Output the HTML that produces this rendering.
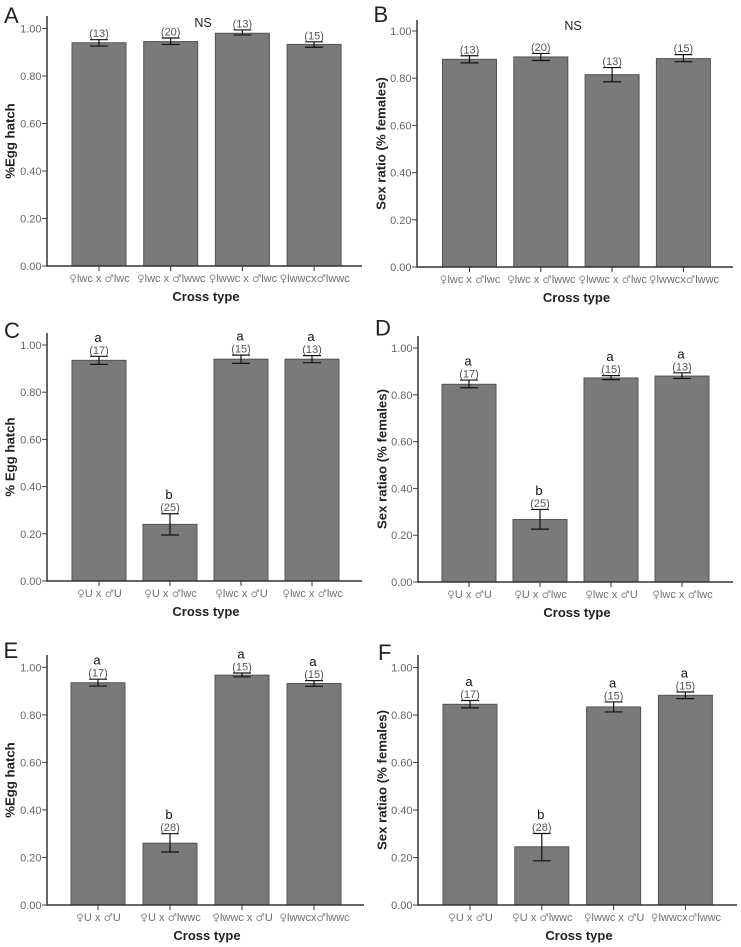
<!DOCTYPE html>
<html lang="en">
<head>
<meta charset="utf-8">
<title>Egg hatch and sex ratio by cross type</title>
<style>
  html, body { margin: 0; padding: 0; background: #fff; }
  svg { display: block; font-family: "Liberation Sans", "DejaVu Sans", sans-serif; filter: blur(0.35px); }
</style>
</head>
<body>
<svg id="figure" xmlns="http://www.w3.org/2000/svg" width="741" height="947" viewBox="0 0 741 947"></svg>
<script>
const tickLabels = ["0.00", "0.20", "0.40", "0.60", "0.80", "1.00"];
const tickValues = [0, 0.2, 0.4, 0.6, 0.8, 1];

const catsA = ["♀lwc x ♂lwc", "♀lwc x ♂lwwc", "♀lwwc x ♂lwc", "♀lwwcx♂lwwc"];
const catsC = ["♀U x ♂U", "♀U x ♂lwc", "♀lwc x ♂U", "♀lwc x ♂lwc"];
const catsE = ["♀U x ♂U", "♀U x ♂lwwc", "♀lwwc x ♂U", "♀lwwcx♂lwwc"];

const valuesA = [0.94, 0.945, 0.98, 0.933];
const lowA = [0.926, 0.933, 0.973, 0.921];
const highA = [0.953, 0.96, 0.994, 0.944];
const countsA = ["(13)", "(20)", "(13)", "(15)"];

const valuesB = [0.88, 0.89, 0.815, 0.883];
const lowB = [0.865, 0.875, 0.785, 0.87];
const highB = [0.895, 0.905, 0.845, 0.9];
const countsB = ["(13)", "(20)", "(13)", "(15)"];

const valuesC = [0.935, 0.24, 0.94, 0.94];
const lowC = [0.918, 0.195, 0.922, 0.925];
const highC = [0.952, 0.285, 0.957, 0.955];
const countsC = ["(17)", "(25)", "(15)", "(13)"];
const lettersC = ["a", "b", "a", "a"];

const valuesD = [0.845, 0.267, 0.872, 0.88];
const lowD = [0.83, 0.226, 0.865, 0.87];
const highD = [0.863, 0.31, 0.882, 0.894];
const countsD = ["(17)", "(25)", "(15)", "(13)"];
const lettersD = ["a", "b", "a", "a"];

const valuesE = [0.935, 0.26, 0.967, 0.932];
const lowE = [0.921, 0.223, 0.96, 0.92];
const highE = [0.95, 0.3, 0.976, 0.944];
const countsE = ["(17)", "(28)", "(15)", "(15)"];
const lettersE = ["a", "b", "a", "a"];

const valuesF = [0.845, 0.245, 0.834, 0.883];
const lowF = [0.83, 0.186, 0.813, 0.869];
const highF = [0.861, 0.301, 0.855, 0.897];
const countsF = ["(17)", "(28)", "(15)", "(15)"];
const lettersF = ["a", "b", "a", "a"];

const panels = [
  { id: "a", letter: "A", lx: 4, ly: 23, title: "%Egg hatch", cats: catsA, values: valuesA, low: lowA, high: highA, counts: countsA, letters: null,
    ax: 47, ar: 362, top: 16, y0: 266, y1: 28.5, first: 99, step: 71.7, bw: 54, titleGap: 32.5, ns: [203, 27] },
  { id: "b", letter: "B", lx: 373.5, ly: 22, title: "Sex ratio (% females)", cats: catsA, values: valuesB, low: lowB, high: highB, counts: countsB, letters: null,
    ax: 417, ar: 733, top: 20, y0: 267, y1: 31, first: 469.5, step: 71.3, bw: 54, titleGap: 31.5, ns: [573, 30] },
  { id: "c", letter: "C", lx: 4, ly: 338, title: "% Egg hatch", cats: catsC, values: valuesC, low: lowC, high: highC, counts: countsC, letters: lettersC,
    ax: 47, ar: 362, top: 333, y0: 581, y1: 345, first: 99, step: 71, bw: 54, titleGap: 32.5 },
  { id: "d", letter: "D", lx: 375, ly: 335.7, title: "Sex ratiao (% females)", cats: catsC, values: valuesD, low: lowD, high: highD, counts: countsD, letters: lettersD,
    ax: 418, ar: 733, top: 336, y0: 582, y1: 348, first: 469, step: 71, bw: 54, titleGap: 31.5 },
  { id: "e", letter: "E", lx: 3.5, ly: 658, title: "%Egg hatch", cats: catsE, values: valuesE, low: lowE, high: highE, counts: countsE, letters: lettersE,
    ax: 47, ar: 364, top: 655, y0: 905, y1: 667.3, first: 98, step: 72, bw: 54, titleGap: 32.5 },
  { id: "f", letter: "F", lx: 378, ly: 660, title: "Sex ratiao (% females)", cats: catsE, values: valuesF, low: lowF, high: highF, counts: countsF, letters: lettersF,
    ax: 418, ar: 737, top: 655, y0: 905, y1: 667.5, first: 470, step: 71.8, bw: 54, titleGap: 31.5 }
];

const svg = document.getElementById("figure");
const NS = "http://www.w3.org/2000/svg";

function make(tag, attrs, text) {
  const el = document.createElementNS(NS, tag);
  for (const k in attrs) el.setAttribute(k, attrs[k]);
  if (text !== undefined) el.textContent = text;
  return el;
}

function fillCategory(textEl, label) {
  label.split(/([♀♂])/).forEach(function (part) {
    if (!part) return;
    const isSymbol = part === "♀" || part === "♂";
    const span = make("tspan", isSymbol
      ? { "font-family": "'DejaVu Sans', sans-serif", "font-size": 10.5, fill: "#8f8f8f" }
      : {}, part);
    textEl.appendChild(span);
  });
}

panels.forEach(function (p) {
  const yScale = function (v) { return p.y0 - v * (p.y0 - p.y1); };
  const xScale = function (i) { return p.first + i * p.step; };
  const cx = (p.ax + p.ar) / 2;

  const g = make("g", {});
  
  
  svg.appendChild(g);

  const letter = make("text", { x: p.lx, y: p.ly, "font-size": 22, fill: "#222", "font-weight": 400 }, p.letter);
  
  
  g.appendChild(letter);

  p.values.forEach(function (v, i) {
    const x = xScale(i);
    const bar = make("rect", { x: x - p.bw / 2, y: yScale(v), width: p.bw, height: p.y0 - yScale(v), fill: "#7a7a7a", stroke: "#545454", "stroke-width": 1 });
    
    
    g.appendChild(bar);

    const hi = yScale(p.high[i]);
    const lo = yScale(p.low[i]);
    const err = make("path", { d: "M" + (x - 9) + " " + hi + "H" + (x + 9) + "M" + x + " " + hi + "V" + lo + "M" + (x - 9) + " " + lo + "H" + (x + 9), fill: "none", stroke: "#111", "stroke-width": 1.2 });
    
    
    g.appendChild(err);

    const count = make("text", { x: x, y: hi - 2.5, "font-size": 11, fill: "#555", "text-anchor": "middle" }, p.counts[i]);
    
    
    g.appendChild(count);

    if (p.letters) {
      const sig = make("text", { x: x - 1, y: hi - 14.5, "font-size": 13, fill: "#111", "text-anchor": "middle" }, p.letters[i]);
      
      
      g.appendChild(sig);
    }

    const xt = make("line", { x1: x, x2: x, y1: p.y0, y2: p.y0 + 5, stroke: "#333", "stroke-width": 1 });
    
    
    g.appendChild(xt);

    const cat = make("text", { x: x + 0.5, y: p.y0 + 16, "font-size": 11, fill: "#707070", "text-anchor": "middle" });
    fillCategory(cat, p.cats[i]);
    
    
    g.appendChild(cat);
  });

  tickValues.forEach(function (t, i) {
    const y = yScale(t);
    const tick = make("line", { x1: p.ax - 5, x2: p.ax, y1: y, y2: y, stroke: "#444", "stroke-width": 1 });
    
    
    g.appendChild(tick);

    const lab = make("text", { x: p.ax - 5.5, y: y + 4, "font-size": 11, fill: "#666", "text-anchor": "end" }, tickLabels[i]);
    
    
    g.appendChild(lab);
  });

  const yAxis = make("line", { x1: p.ax, x2: p.ax, y1: p.top, y2: p.y0 + 0.7, stroke: "#333", "stroke-width": 1.5 });
  
  
  g.appendChild(yAxis);

  const xAxis = make("line", { x1: p.ax, x2: p.ar, y1: p.y0, y2: p.y0, stroke: "#333", "stroke-width": 1.5 });
  
  
  g.appendChild(xAxis);

  const xTitle = make("text", { x: cx + 1.5, y: p.y0 + 35, "font-size": 13, "font-weight": 700, fill: "#222", "text-anchor": "middle" }, "Cross type");
  
  
  g.appendChild(xTitle);

  const midY = (p.top + p.y0) / 2;
  const titleX = p.ax - p.titleGap;
  const yTitle = make("text", { x: titleX, y: midY, "font-size": 13.2, "font-weight": 700, fill: "#222", "text-anchor": "middle", transform: "rotate(-90 " + titleX + " " + midY + ")" }, p.title);
  
  
  g.appendChild(yTitle);

  if (p.ns) {
    const ns = make("text", { x: p.ns[0], y: p.ns[1], "font-size": 12.5, fill: "#222", "text-anchor": "middle" }, "NS");
    
    
    g.appendChild(ns);
  }
});
</script>
</body>
</html>
